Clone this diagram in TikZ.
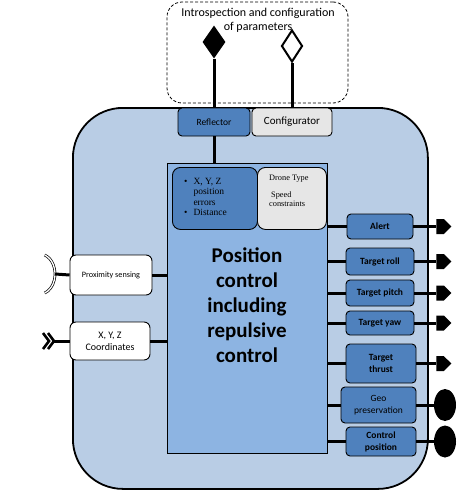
\documentclass[tikz,border=0pt]{standalone}
\usepackage{fontspec}
\setmainfont{Carlito}
\newfontfamily\timesfont{Liberation Serif}
\usetikzlibrary{shapes.geometric,shapes.symbols}

\definecolor{lblue}{RGB}{185,205,229}
\definecolor{mblue}{RGB}{141,180,226}
\definecolor{dblue}{RGB}{79,129,189}
\definecolor{lgray}{RGB}{230,230,230}

\tikzset{
  blk/.style={draw, line width=0.9pt, rounded corners=4pt, fill=dblue, align=center, inner sep=1pt},
  inbox/.style={draw, line width=0.9pt, rounded corners=6pt, fill=white, align=center, inner sep=1pt},
  conn/.style={line width=3pt},
  sigport/.style={signal, signal to=east, fill=black, inner sep=0pt, minimum width=15pt, minimum height=15pt},
  dotport/.style={ellipse, fill=black, inner sep=0pt, minimum width=22pt, minimum height=32pt},
}

\begin{document}
\begin{tikzpicture}[x=1pt, y=-1pt]
  \useasboundingbox (0,0) rectangle (457,490);

  % Drohne
  \node[draw, line width=1.8pt, rounded corners=50pt, fill=lblue, minimum width=355pt, minimum height=381pt, anchor=north west] (drone) at (72,107) {};

  % Introspektion
  \node[draw, line width=0.8pt, dash pattern=on 3pt off 2pt, rounded corners=15pt, minimum width=181pt, minimum height=101pt] (intro) at (257.5,52.5) {};
  \node[font=\fontsize{12}{14}\selectfont, align=center] (introtext) at (258,20) {Introspection and configuration\\of parameters};

  \node[diamond, fill=black, inner sep=0pt, minimum width=23pt, minimum height=33pt] (refldia) at (214,42) {};
  \node[diamond, draw, line width=2pt, fill=white, inner sep=0pt, minimum width=21pt, minimum height=32pt] (confdia) at (292,46) {};

  \node[blk, minimum width=72pt, minimum height=28pt, font=\fontsize{9.5}{11}\selectfont] (refl) at (214,122) {Reflector};
  \node[blk, fill=lgray, minimum width=80pt, minimum height=28pt, font=\fontsize{11}{13}\selectfont] (conf) at (292,122) {Configurator};

  % Regler
  \node[draw, line width=0.8pt, fill=mblue, minimum width=160pt, minimum height=290pt, anchor=north west] (pos) at (167,163) {};
  \node[font=\bfseries\fontsize{21}{25}\selectfont, align=center] (postext) at (247,305) {Position\\control\\including\\repulsive\\control};

  \node[blk, rounded corners=8pt, minimum width=85pt, minimum height=62pt, anchor=north west] (err) at (172,167) {};
  \node[font=\timesfont\fontsize{9.5}{10.5}\selectfont, inner sep=0pt, anchor=west] (errtext) at (184,198)
    {\begin{tabular}{@{}l@{\hspace{6pt}}l@{}}\textbullet & X, Y, Z\\ & position\\ & errors\\ \textbullet & Distance\end{tabular}};

  \node[blk, fill=lgray, rounded corners=8pt, minimum width=69pt, minimum height=62pt, anchor=north west] (dtype) at (257,167) {};
  \node[font=\timesfont\fontsize{8.3}{9.5}\selectfont, align=left, inner sep=0pt, anchor=north west] (dtypetext) at (269,175)
    {Drone Type\\[7pt]\hspace*{2pt}Speed\\constraints};

  \draw[conn] (refldia.south) -- (refl.north);
  \draw[conn] (confdia.south) -- (conf.north);
  \draw[conn] (refl.south) -- (refl.south |- pos.north);

  % Eingaenge
  \node[inbox, minimum width=82pt, minimum height=40pt, font=\fontsize{8.2}{10}\selectfont] (prox) at (111,275) {Proximity sensing};
  \node[inbox, minimum width=80pt, minimum height=38pt, font=\fontsize{10}{12}\selectfont] (coord) at (110,341) {X, Y, Z\\Coordinates};

  \coordinate (proxin) at (55,274);
  \coordinate (coordin) at (54,341);
  \draw[double, line width=0.7pt, double distance=1.3pt] (40,274) ++(-72:15 and 20) arc[start angle=-72, end angle=72, x radius=15, y radius=20];
  \draw[line width=2.6pt] (43,333) -- (49,341) -- (43,349);
  \draw[line width=2.6pt] (48,333) -- (54,341) -- (48,349);

  \draw[conn] (proxin) -- (prox.west);
  \draw[conn] (coordin) -- (coord.west);
  \draw[conn] (prox.east) -- (prox.east -| pos.west);
  \draw[conn] (coord.east) -- (coord.east -| pos.west);

  % Ausgaenge
  \node[blk, minimum width=66pt, minimum height=25pt, font=\bfseries\fontsize{9.5}{11}\selectfont] (alert) at (380,226.5) {Alert};
  \node[blk, minimum width=68pt, minimum height=27pt, font=\bfseries\fontsize{9.5}{11}\selectfont] (roll) at (380,261.5) {Target roll};
  \node[blk, minimum width=68pt, minimum height=26pt, font=\bfseries\fontsize{9.5}{11}\selectfont] (pitch) at (380,293) {Target pitch};
  \node[blk, minimum width=68pt, minimum height=24pt, font=\bfseries\fontsize{9.5}{11}\selectfont] (yaw) at (380,323) {Target yaw};
  \node[blk, minimum width=70pt, minimum height=39pt, font=\bfseries\fontsize{9.5}{12.5}\selectfont] (thrust) at (381,363.5) {Target\\thrust};
  \node[blk, minimum width=75pt, minimum height=36pt, font=\fontsize{9.5}{12.5}\selectfont] (geo) at (378.5,405) {Geo\\preservation};
  \node[blk, minimum width=70pt, minimum height=29pt, font=\bfseries\fontsize{9.5}{12}\selectfont] (ctrl) at (381,441.5) {Control\\position};

  \coordinate (portx) at (440,0);
  \coordinate (dotx) at (445,0);
  \foreach \n in {alert,roll,pitch,yaw,thrust} {
    \node[sigport] (\n-p) at (portx |- \n) {};
    \draw[conn] (\n) -- (\n-p);
    \draw[conn] (pos.east |- \n) -- (\n);
  }
  \foreach \n in {geo,ctrl} {
    \node[dotport] (\n-p) at (dotx |- \n) {};
    \draw[conn] (\n) -- (\n-p);
    \draw[conn] (pos.east |- \n) -- (\n);
  }
\end{tikzpicture}
\end{document}
